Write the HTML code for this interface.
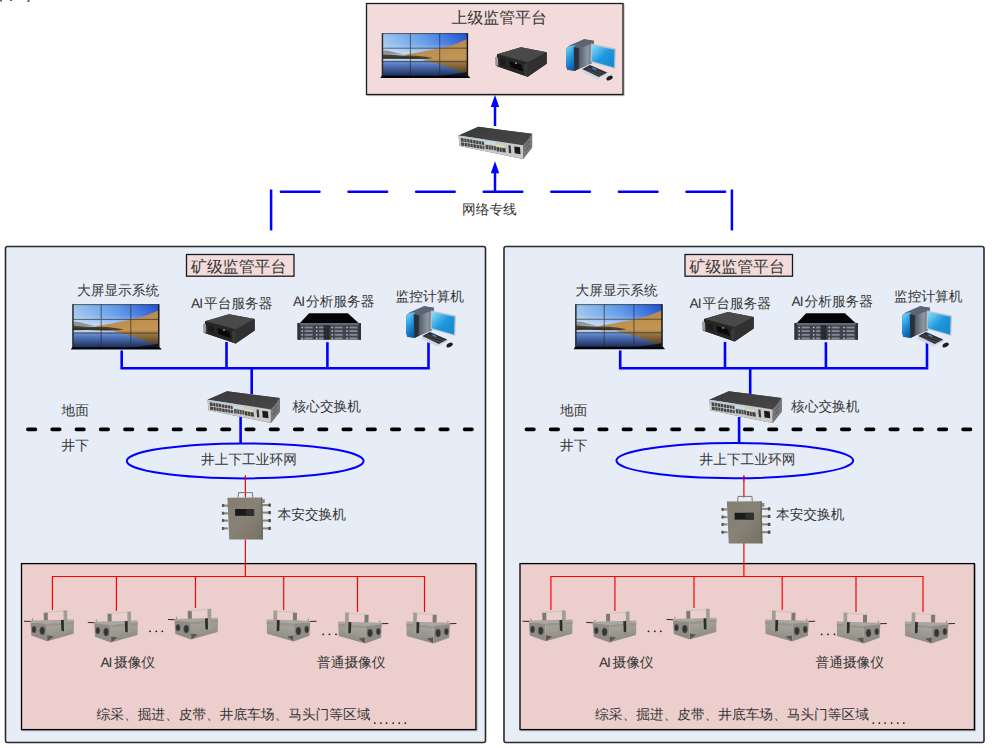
<!DOCTYPE html>
<html><head><meta charset="utf-8">
<style>
html,body{margin:0;padding:0;background:#fff;width:992px;height:748px;overflow:hidden}
svg{position:absolute;left:0;top:0}
text{font-family:"Liberation Sans",sans-serif;fill:#353535;text-rendering:geometricPrecision}
</style></head><body>
<svg width="992" height="748" viewBox="0 0 992 748">
<defs>

  <linearGradient id="sky" x1="0" y1="0" x2="1" y2="0">
    <stop offset="0" stop-color="#9cc4ee"/><stop offset="0.5" stop-color="#5b97e6"/><stop offset="1" stop-color="#1a4fd4"/>
  </linearGradient>
  <linearGradient id="skyv" x1="0" y1="0" x2="0" y2="1">
    <stop offset="0" stop-color="#fff" stop-opacity="0"/><stop offset="0.4" stop-color="#fff" stop-opacity="0.1"/><stop offset="1" stop-color="#f4f8ff" stop-opacity="0.85"/>
  </linearGradient>
  <linearGradient id="water" x1="0" y1="0" x2="0" y2="1">
    <stop offset="0" stop-color="#8eb0e0"/><stop offset="0.35" stop-color="#5377bd"/><stop offset="1" stop-color="#1a2754"/>
  </linearGradient>
  <linearGradient id="sand" x1="0" y1="0" x2="0.3" y2="1">
    <stop offset="0" stop-color="#8a663a"/><stop offset="0.3" stop-color="#b8894c"/><stop offset="1" stop-color="#c39552"/>
  </linearGradient>
  <linearGradient id="sandr" x1="0" y1="0" x2="0" y2="1">
    <stop offset="0" stop-color="#b08a50"/><stop offset="1" stop-color="#4a3418"/>
  </linearGradient>
  <linearGradient id="pcblue" x1="0" y1="0" x2="0.4" y2="1">
    <stop offset="0" stop-color="#86dcf8"/><stop offset="0.5" stop-color="#2c9ee0"/><stop offset="1" stop-color="#0f5fae"/>
  </linearGradient>
  <linearGradient id="pcside" x1="0" y1="0" x2="1" y2="0">
    <stop offset="0" stop-color="#4e5866"/><stop offset="0.6" stop-color="#8c97a4"/><stop offset="1" stop-color="#5e6874"/>
  </linearGradient>
  <linearGradient id="scr" x1="0" y1="0" x2="1" y2="1">
    <stop offset="0" stop-color="#8ae0fb"/><stop offset="0.5" stop-color="#1f98dc"/><stop offset="1" stop-color="#1783cf"/>
  </linearGradient>
  <linearGradient id="boxg" x1="0" y1="0" x2="1" y2="1">
    <stop offset="0" stop-color="#847e72"/><stop offset="0.5" stop-color="#888276"/><stop offset="1" stop-color="#767065"/>
  </linearGradient>
  <linearGradient id="camg" x1="0" y1="0" x2="0.3" y2="1">
    <stop offset="0" stop-color="#aeaba3"/><stop offset="0.6" stop-color="#9a978f"/><stop offset="1" stop-color="#8c8981"/>
  </linearGradient>
  <linearGradient id="swtop" x1="0" y1="0" x2="1" y2="1">
    <stop offset="0" stop-color="#3a3a3a"/><stop offset="1" stop-color="#474747"/>
  </linearGradient>

  <g id="vwall">
    <rect x="0" y="0" width="86.1" height="27" fill="url(#sky)"/>
    <rect x="0" y="0" width="86.1" height="27" fill="url(#skyv)"/>
    <path d="M0 26 L86.1 26 L86.1 44 L0 44 Z" fill="url(#water)"/>
    <path d="M0 17.4 L6 17.8 L15.8 20.4 L22 21.5 L0 22 Z" fill="#8f949c"/>
    <path d="M22 22 L39 19.2 L57.5 15.6 L71.4 12 L86.1 6 L86.1 27.2 L40 26.8 L30 25 Z" fill="url(#sand)"/>
    <path d="M0 25.8 L45 26 L42 27.6 L0 28 Z" fill="#c0d6f2" opacity="0.85"/>
    <path d="M40 26.6 L86.1 26.6 L86.1 42.2 L62 32.9 Z" fill="url(#sandr)"/>
    <path d="M0 21.5 L8 22 L20 22.6 L34 22.9 L44 24 L51 25.2 L44 26.2 L30 26.2 L14 25.9 L0 26 Z" fill="#4a4030"/>
    <path d="M0 23.8 L30 24.2 L40 25.5 L30 25.8 L0 25.6 Z" fill="#221e16" opacity="0.5"/>
    <path d="M55 44 L86.1 39.5 L86.1 44 Z" fill="#0c1630"/>
    <g stroke="#2a2a2a" stroke-width="0.9" fill="none" opacity="0.75">
      <line x1="28.4" y1="0" x2="28.4" y2="44"/><line x1="58" y1="0" x2="58" y2="44"/>
      <line x1="0" y1="15.2" x2="86.1" y2="15.2"/><line x1="0" y1="28.9" x2="86.1" y2="28.9"/>
    </g>
    <rect x="0" y="0" width="86.1" height="0.9" fill="#333" opacity="0.8"/>
    <rect x="-0.6" y="0" width="1.5" height="44" fill="#2c2c2c"/>
    <rect x="85.2" y="0" width="1.5" height="44" fill="#1a1a1a"/>
    <path d="M-2 45.4 L-0.6 43.1 L87 43.1 L89 45.4 Z" fill="#050505"/>
  </g>

  <g id="srv">
    <path d="M205.1 321.2 L229 314.2 L254.7 319.1 L254.7 330.6 L235.7 343.6 L203.9 332.7 Z" fill="#2a2a2a"/>
    <path d="M205.1 321.2 L229 314.2 L254.7 319.1 L235.7 329.4 Z" fill="#494949"/>
    <path d="M205.1 321.2 L235.7 329.4 L235.7 343.6 L203.9 332.7 Z" fill="#262626"/>
    <path d="M235.7 329.4 L254.7 319.1 L254.7 330.6 L235.7 343.6 Z" fill="#303030"/>
    <path d="M203 324 L206 324.3 L206.3 333 L203.3 332.2 Z" fill="#9a9a9a"/>
    <path d="M208.5 325.5 L214 327 L214 333 L208.5 331.3 Z" fill="#1c1c1c"/>
    <path d="M217.5 328.1 L229 331.5 L231 338.4 L218.1 333.9 Z" fill="#0a0a0a"/>
    <rect x="223.3" y="329.4" width="1.3" height="1.3" fill="#e8e8e8"/>
    <path d="M232 331.5 L235.7 329.4 L235.7 343.6 L232.5 342.5 Z" fill="#3a3a3a"/>
  </g>
  <g id="stor">
    <path d="M309.1 313.2 L347.9 313.2 L358.5 323.1 L299.9 323.1 Z" fill="#050508"/>
    <rect x="297.5" y="323.1" width="63.5" height="16.6" fill="#3f444e"/>
    <rect x="297.5" y="323.1" width="63.5" height="2.1" fill="#646a75"/>
    <rect x="297.5" y="323.1" width="2.5" height="16.6" fill="#2e323a"/>
    <rect x="358.5" y="323.1" width="2.5" height="16.6" fill="#2e323a"/>
    <rect x="301.5" y="326.8" width="1.4" height="1.4" fill="#d8d8d8"/>
    <rect x="304.6" y="326.6" width="8" height="1.8" fill="#868b94"/>
    <rect x="301.5" y="330.4" width="1.4" height="1.4" fill="#d8d8d8"/>
    <rect x="304.6" y="330.2" width="8" height="1.8" fill="#868b94"/>
    <rect x="301.5" y="334.1" width="1.4" height="1.4" fill="#d8d8d8"/>
    <rect x="304.6" y="333.9" width="8" height="1.8" fill="#868b94"/>
    <rect x="301.5" y="337.7" width="1.4" height="1.4" fill="#d8d8d8"/>
    <rect x="304.6" y="337.5" width="8" height="1.8" fill="#868b94"/>
    <rect x="316" y="326.8" width="1.4" height="1.4" fill="#d8d8d8"/>
    <rect x="319.1" y="326.6" width="8" height="1.8" fill="#868b94"/>
    <rect x="316" y="330.4" width="1.4" height="1.4" fill="#d8d8d8"/>
    <rect x="319.1" y="330.2" width="8" height="1.8" fill="#868b94"/>
    <rect x="316" y="334.1" width="1.4" height="1.4" fill="#d8d8d8"/>
    <rect x="319.1" y="333.9" width="8" height="1.8" fill="#868b94"/>
    <rect x="316" y="337.7" width="1.4" height="1.4" fill="#d8d8d8"/>
    <rect x="319.1" y="337.5" width="8" height="1.8" fill="#868b94"/>
    <rect x="331.5" y="326.8" width="1.4" height="1.4" fill="#d8d8d8"/>
    <rect x="334.6" y="326.6" width="8" height="1.8" fill="#868b94"/>
    <rect x="331.5" y="330.4" width="1.4" height="1.4" fill="#d8d8d8"/>
    <rect x="334.6" y="330.2" width="8" height="1.8" fill="#868b94"/>
    <rect x="331.5" y="334.1" width="1.4" height="1.4" fill="#d8d8d8"/>
    <rect x="334.6" y="333.9" width="8" height="1.8" fill="#868b94"/>
    <rect x="331.5" y="337.7" width="1.4" height="1.4" fill="#d8d8d8"/>
    <rect x="334.6" y="337.5" width="8" height="1.8" fill="#868b94"/>
    <rect x="346.3" y="326.8" width="1.4" height="1.4" fill="#d8d8d8"/>
    <rect x="349.4" y="326.6" width="8" height="1.8" fill="#868b94"/>
    <rect x="346.3" y="330.4" width="1.4" height="1.4" fill="#d8d8d8"/>
    <rect x="349.4" y="330.2" width="8" height="1.8" fill="#868b94"/>
    <rect x="346.3" y="334.1" width="1.4" height="1.4" fill="#d8d8d8"/>
    <rect x="349.4" y="333.9" width="8" height="1.8" fill="#868b94"/>
    <rect x="346.3" y="337.7" width="1.4" height="1.4" fill="#d8d8d8"/>
    <rect x="349.4" y="337.5" width="8" height="1.8" fill="#868b94"/>
    <rect x="323.5" y="325.2" width="6" height="14.5" fill="#23262c" opacity="0.9"/>
  </g>

  <g id="pc">
    <path d="M409.2 312.8 L424.2 306.2 L433.8 307.8 L431.6 330.2 L418.5 335.9 L414.4 338 L407.2 336.8 L406 332 L406.2 315.8 Z" fill="#4a5563"/>
    <path d="M409.2 312.8 L424.2 306.2 L433.8 307.8 L433.5 309.9 L419 315.6 L414.5 313.9 Z" fill="#5a6574"/>
    <path d="M418.7 315.5 L433.5 309.9 L431.6 330.2 L418.5 335.9 Z" fill="url(#pcside)"/>
    <path d="M406.2 315.8 L409.2 312.9 L414.9 312.3 L415.4 337.7 L407.2 336.8 L406 332 Z" fill="url(#pcblue)"/>
    <path d="M413.6 314 L419 315.6 L418.7 335.9 L414.4 338 Z" fill="#2b3139"/>
    <path d="M430.9 310.4 L455.9 315.5 L455.3 335.9 L430.6 329 Z" fill="#b9c5cf"/>
    <path d="M432.3 312 L454.6 316.8 L454 334.4 L431.6 328 Z" fill="url(#scr)"/>
    <path d="M420.4 338.6 L430 331 L448.9 341 L437.3 346.6 Z" fill="#cdd7e2"/>
    <path d="M422.2 335.9 L429.9 331.9 L447.3 339.6 L438.9 343.9 Z" fill="#2f3136"/>
    <path d="M433 334.5 L437 336.3 L435.5 337 L431.8 335.2 Z" fill="#3a9ad6"/><path d="M425 337 L441 342.3" stroke="#6a6e74" stroke-width="0.5"/><path d="M427 335 L444 340.6" stroke="#5a5e64" stroke-width="0.5"/>
    <ellipse cx="449.6" cy="345.1" rx="3.4" ry="2" transform="rotate(-28 449.6 345.1)" fill="#1c2026"/>
  </g>
  <g id="sw">
    <path d="M207.6 399.7 L227 391.2 L279.8 398.1 L279.8 411.8 L270.9 423.1 L208.4 410.2 Z" fill="#555"/>
    <path d="M207.6 399.7 L227 391.2 L279.8 398.1 L270.9 409.4 Z" fill="url(#swtop)"/>
    <path d="M207.6 399.7 L270.9 409.4 L270.9 423.1 L208.4 410.2 Z" fill="#c9c9c9"/>
    <path d="M270.9 409.4 L279.8 398.1 L279.8 411.8 L270.9 423.1 Z" fill="#787878"/>
    <path d="M273 407 L277.5 401.5 M273 411 L277.5 405.5 M273 415 L277.5 409.5" stroke="#3a3a3a" stroke-width="0.6"/>
    <g transform="matrix(0.633 0.097 0.008 0.105 207.6 399.7)">
      <rect x="2" y="2" width="38" height="9" fill="#b3d3e0"/>
      <rect x="3" y="22" width="18" height="32" fill="#454545"/>
      <rect x="3" y="60" width="18" height="32" fill="#454545"/>
      <rect x="22" y="24" width="17" height="32" fill="#454545"/>
      <rect x="22" y="62" width="17" height="32" fill="#454545"/>
      <rect x="40" y="15" width="17" height="25" fill="#c4dde6"/>
      <rect x="41" y="50" width="16" height="40" fill="#4a4a4a"/>
      <rect x="58" y="35" width="12" height="15" fill="#e6e39a"/>
      <rect x="58" y="55" width="14" height="40" fill="#3e3e3e"/>
      <rect x="77" y="22" width="3.5" height="72" fill="#333"/>
      <rect x="86" y="25" width="9" height="65" fill="#1a1a1a"/>
    </g>
    <g fill="#c9c9c9" transform="matrix(0.633 0.097 0.008 0.105 207.6 399.7)">
      <rect x="7.5" y="20" width="0.9" height="78"/>
      <rect x="12" y="20" width="0.9" height="78"/>
      <rect x="16.5" y="20" width="0.9" height="78"/>
      <rect x="26" y="20" width="0.9" height="78"/>
      <rect x="30.5" y="20" width="0.9" height="78"/>
      <rect x="35" y="20" width="0.9" height="78"/>
      <rect x="45" y="52" width="0.9" height="46"/>
      <rect x="49" y="52" width="0.9" height="46"/>
      <rect x="53" y="52" width="0.9" height="46"/>
      <rect x="62" y="52" width="0.9" height="46"/>
      <rect x="66" y="52" width="0.9" height="46"/>
      <rect x="2" y="55" width="38" height="5"/>
    </g>
  </g>

  <g id="cam">
    <path d="M-0.1 10.9 L8.6 11.2 L8.6 12.2 L-0.1 11.9 Z" fill="#2a2a2a"/>
    <rect x="7.9" y="8.6" width="0.9" height="2.6" fill="#8a8780"/>
    <path d="M19.6 2.6 L23.6 2.4 L23.8 11.4 L19.8 11.6 Z" fill="#7c7973"/>
    <path d="M6.4 10.8 L49.9 9.6 L49.9 11.5 L22.7 13.8 L6.4 12.7 Z" fill="#aaa7a0"/>
    <path d="M6.4 12.6 L22.7 13.7 L23 31.5 L7.2 25.8 Z" fill="#8f8c84"/>
    <path d="M22.7 13.7 L49.9 11.4 L49.6 23.9 L23 31.5 Z" fill="url(#camg)"/>
    <path d="M22.7 13.7 L49.9 11.4 L49.8 14 L22.8 16.5 Z" fill="#8f8c85" opacity="0.6"/>
    <ellipse cx="9.9" cy="19.6" rx="2.1" ry="3.4" fill="#343434" stroke="#6e6b66" stroke-width="0.5"/>
    <ellipse cx="18.2" cy="21" rx="2.6" ry="4" fill="#343434" stroke="#6e6b66" stroke-width="0.5"/>
    <path d="M23.1 25.5 L29.6 26.6 L23.4 31.2 Z" fill="#5a564f"/>
    <path d="M19.6 1.9 L42.8 0.4 L43.1 1.6 L19.8 3.1 Z" fill="#c9c6c0"/>
    <path d="M39.4 0.8 L43.1 0.6 L43.3 21.2 L39.6 21.4 Z" fill="#a09d96"/>
    <path d="M36.9 10.3 L39.7 10.1 L39.9 21.6 L37.3 20.8 Z" fill="#2c2c2c"/>
  </g>
  <g id="camm"><use href="#cam" transform="translate(50 0) scale(-1 1)"/></g>

  <g id="box">
    <path d="M238.1 497.5 L238.6 492.6 L252.4 492.6 L252.8 497.5" fill="none" stroke="#777570" stroke-width="1"/>
    <rect x="223.5" y="504.6" width="4.5" height="2" fill="#8a857b"/>
    <rect x="221.9" y="504.1" width="2.4" height="3" rx="0.6" fill="#5e5a52"/>
    <rect x="223.5" y="512.3" width="4.5" height="2" fill="#8a857b"/>
    <rect x="221.9" y="511.8" width="2.4" height="3" rx="0.6" fill="#5e5a52"/>
    <rect x="223.5" y="519.6" width="4.5" height="2" fill="#8a857b"/>
    <rect x="221.9" y="519.1" width="2.4" height="3" rx="0.6" fill="#5e5a52"/>
    <rect x="223.5" y="527.4" width="4.5" height="2" fill="#8a857b"/>
    <rect x="221.9" y="526.9" width="2.4" height="3" rx="0.6" fill="#5e5a52"/>
    <rect x="262" y="504.1" width="6.8" height="2" fill="#8a857b"/>
    <rect x="268.3" y="503.5" width="2.6" height="3.2" rx="0.6" fill="#4e4a43"/>
    <rect x="262" y="511.6" width="6.8" height="2" fill="#8a857b"/>
    <rect x="268.3" y="511.0" width="2.6" height="3.2" rx="0.6" fill="#4e4a43"/>
    <rect x="262" y="519.6" width="6.8" height="2" fill="#8a857b"/>
    <rect x="268.3" y="519.0" width="2.6" height="3.2" rx="0.6" fill="#4e4a43"/>
    <rect x="262" y="527.4" width="6.8" height="2" fill="#8a857b"/>
    <rect x="268.3" y="526.8" width="2.6" height="3.2" rx="0.6" fill="#4e4a43"/>
    <rect x="262" y="499.2" width="2.8" height="3.8" fill="#8a8680"/>
    <path d="M227.4 497.7 L262.2 497.4 L262.9 539.6 L229.2 539.6 Z" fill="url(#boxg)"/>
    <path d="M261 497.4 L262.2 497.4 L262.9 539.6 L261.5 539.6 Z" fill="#6b665c"/>
    <rect x="235.1" y="509" width="19" height="6.8" fill="#1a1a1a"/>
    <rect x="246" y="509" width="8.1" height="6.8" fill="#2e2e2c"/>
  </g>

  <g id="panel">
    <rect x="5.5" y="246.5" width="480" height="496" rx="2" fill="#e7edf7" stroke="#2a2a2a" stroke-width="1.6"/>
    <rect x="186.5" y="254.5" width="107.5" height="21.7" fill="#f2dbda" stroke="#1a1a1a" stroke-width="1.3"/>
    <text x="191" y="272" font-size="15.9">矿级监管平台</text>
    <text x="77" y="295" font-size="13.7">大屏显示系统</text>
    <text x="191" y="308" font-size="13.7">A<tspan dx="-0.8">I</tspan><tspan dx="0.9">平台服务器</tspan></text>
    <text x="293" y="306" font-size="13.7">A<tspan dx="-0.8">I</tspan><tspan dx="0.9">分析服务器</tspan></text>
    <text x="395.5" y="301" font-size="13.7">监控计算机</text>
    <g stroke="#0000ff" stroke-width="2.6" fill="none">
      <path d="M121.7 350.5 V368.3 H428.5 V342.5"/>
      <line x1="226.5" y1="342" x2="226.5" y2="368.3"/>
      <line x1="327.4" y1="342.2" x2="327.4" y2="368.3"/>
      <line x1="251.7" y1="368.3" x2="251.7" y2="394"/>
      <line x1="240.6" y1="417" x2="240.6" y2="444"/>
    </g>
    <text x="292.5" y="410.5" font-size="13.7">核心交换机</text>
    <text x="61.5" y="414.5" font-size="13.7">地面</text>
    <text x="61.5" y="450" font-size="13.7">井下</text>
    <line x1="27.9" y1="429.3" x2="472" y2="429.3" stroke="#000" stroke-width="3.7" stroke-linecap="round" stroke-dasharray="7.5 16.76"/>
    <text x="201" y="463.5" font-size="13.7">井上下工业环网</text>
    <g stroke="#ff0000" stroke-width="1.2" fill="none">
      <line x1="245.4" y1="475.5" x2="245.4" y2="497.5"/>
      <line x1="245.4" y1="539.4" x2="245.4" y2="576.5"/>
    </g>
    <text x="277.5" y="518.5" font-size="13.7">本安交换机</text>
    <rect x="22.5" y="564.6" width="454.4" height="166" fill="none" stroke="#000" stroke-width="1.3" opacity="0.25"/>
    <rect x="21.5" y="563.6" width="454.4" height="166" fill="#eccecd" stroke="#000" stroke-width="1.3"/>
    <g stroke="#ff0000" stroke-width="1.2" fill="none">
      <path d="M52.4 610 V576.5 H424.5 V612"/>
      <line x1="116.4" y1="576.5" x2="116.4" y2="611"/>
      <line x1="195.5" y1="576.5" x2="195.5" y2="608"/>
      <line x1="245.4" y1="563" x2="245.4" y2="576.5"/>
      <line x1="283.7" y1="576.5" x2="283.7" y2="610"/>
      <line x1="357.5" y1="576.5" x2="357.5" y2="612"/>
    </g>
    <use href="#cam" transform="translate(24.1 609.8)"/>
    <use href="#cam" transform="translate(87.9 611)"/>
    <use href="#cam" transform="translate(168.1 608.1)"/>
    <use href="#camm" transform="translate(266.6 609.9)"/>
    <use href="#camm" transform="translate(338.2 612)"/>
    <use href="#camm" transform="translate(406.3 612)"/>
    <g fill="#1a1a1a">
      <circle cx="150" cy="631.3" r="0.9"/><circle cx="156.3" cy="631.3" r="0.9"/><circle cx="162.3" cy="631.3" r="0.9"/>
      <circle cx="323.2" cy="634.3" r="0.9"/><circle cx="329.5" cy="634.3" r="0.9"/><circle cx="336" cy="634.3" r="0.9"/>
      <circle cx="374.8" cy="723.1" r="0.9"/><circle cx="380.9" cy="723.1" r="0.9"/><circle cx="386.6" cy="723.1" r="0.9"/><circle cx="393.2" cy="723.1" r="0.9"/><circle cx="399.3" cy="723.1" r="0.9"/><circle cx="405.3" cy="723.1" r="0.9"/>
    </g>
    <text x="100.5" y="667" font-size="13.7">A<tspan dx="-1.1">I</tspan><tspan dx="1.6">摄像仪</tspan></text>
    <text x="317" y="667" font-size="13.7">普通摄像仪</text>
    <text x="96.6" y="719" font-size="13.7">综采、掘进、皮带、井底车场、马头门等区域</text>
  </g>

</defs>
<g fill="#2a2a2a" opacity="0.75"><rect x="0" y="0" width="2" height="1.5"/><rect x="10" y="0" width="2" height="1"/><rect x="27.5" y="0" width="2" height="2"/></g>
<rect x="367.5" y="4.5" width="256.5" height="91" fill="none" stroke="#000" stroke-width="1.3" opacity="0.25"/>
<rect x="366.5" y="3.5" width="256.5" height="91" fill="#f2dbda" stroke="#1a1a1a" stroke-width="1.3"/>
<text x="451.5" y="23" font-size="15.9">上级监管平台</text>
<use href="#vwall" transform="translate(382.3 33.2) scale(0.99 0.985)"/>
<use href="#srv" transform="translate(292 -266.9)"/>
<use href="#pc" transform="translate(160 -267)"/>
<use href="#sw" transform="translate(458.6 126.8) scale(1.018 1.01) translate(-207.6 -391.2)"/>
<g stroke="#0000ff" stroke-width="2.5" fill="none">
  <line x1="495" y1="105" x2="495" y2="126"/>
  <line x1="495" y1="171" x2="495" y2="191.8"/>
  <line x1="271.1" y1="189.5" x2="271.1" y2="230.4"/>
  <line x1="731.9" y1="189.5" x2="731.9" y2="230.4"/>
  <line x1="280.9" y1="191.8" x2="726.5" y2="191.8" stroke-dasharray="38.6 29" stroke-linecap="round"/>
</g>
<path d="M495 95 L499.2 107 L490.8 107 Z" fill="#0000ff"/>
<path d="M495 161.3 L499.2 173.2 L490.8 173.2 Z" fill="#0000ff"/>
<text x="462" y="214" font-size="13.7">网络专线</text>
<use href="#panel"/>
<use href="#panel" transform="translate(498.5 0)"/>
<ellipse cx="245.2" cy="460.9" rx="118.4" ry="17.5" fill="none" stroke="#0000ff" stroke-width="2"/>
<ellipse cx="734.8" cy="460.6" rx="118.4" ry="17.6" fill="none" stroke="#0000ff" stroke-width="2"/>
<g stroke="#ff0000" stroke-width="1.2"><line x1="245.4" y1="475.5" x2="245.4" y2="481"/><line x1="743.9" y1="475.5" x2="743.9" y2="481"/></g>
<use href="#vwall" transform="translate(72.8 304.2)"/>
<use href="#srv"/>
<use href="#stor"/>
<use href="#pc"/>
<use href="#sw"/>
<use href="#box"/>
<use href="#vwall" transform="translate(575.7 304.2) scale(1.004 0.99)"/>
<use href="#srv" transform="translate(499 -2.1)"/>
<use href="#stor" transform="translate(497 0)"/>
<use href="#pc" transform="translate(496 0)"/>
<use href="#sw" transform="translate(501.8 0)"/>
<use href="#box" transform="translate(499.5 3.8)"/>
</svg>
</body></html>
